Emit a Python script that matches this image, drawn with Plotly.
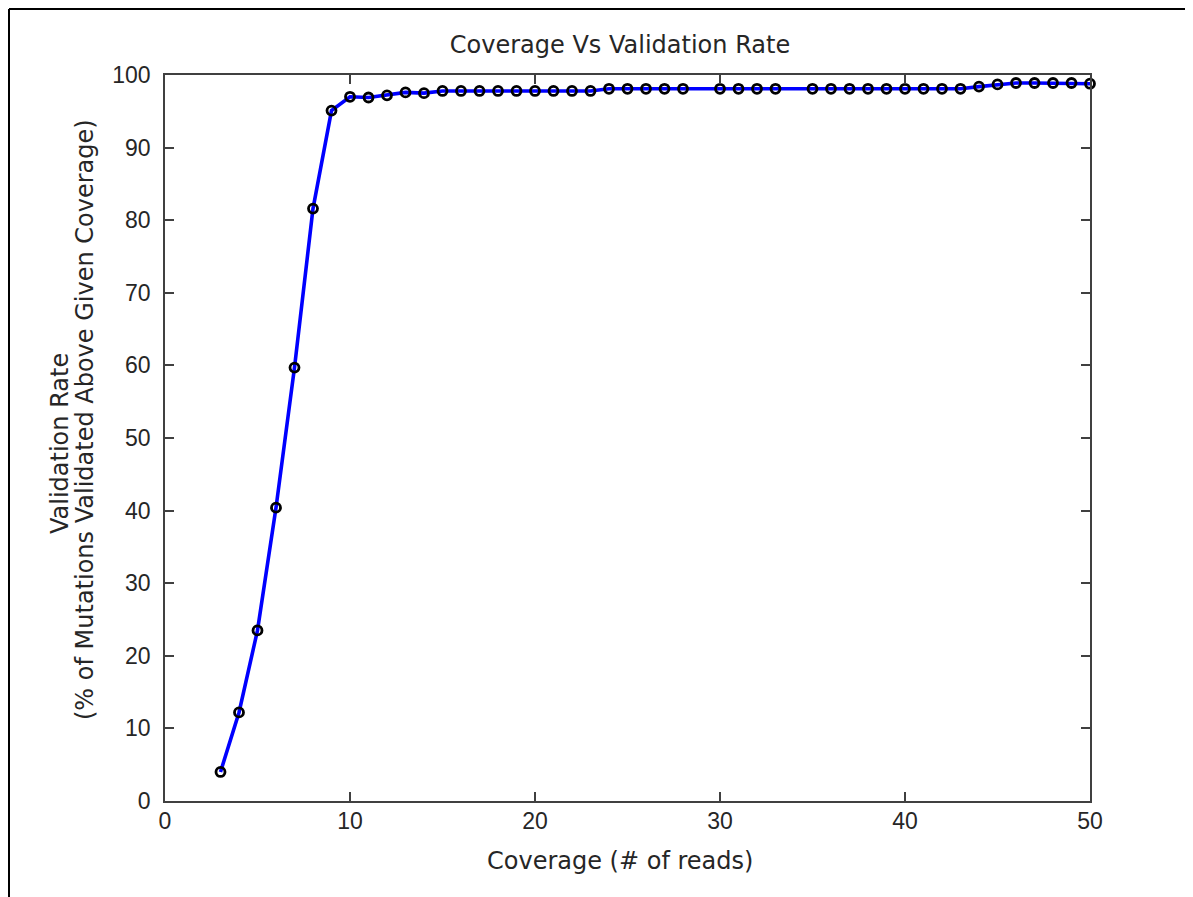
import plotly.graph_objects as go

coverage = [3, 4, 5, 6, 7, 8, 9, 10, 11, 12, 13, 14, 15, 16, 17, 18, 19, 20,
            21, 22, 23, 24, 25, 26, 27, 28, 30, 31, 32, 33, 35, 36, 37, 38,
            39, 40, 41, 42, 43, 44, 45, 46, 47, 48, 49, 50]
validation_rate = [4.0, 12.2, 23.5, 40.4, 59.7, 81.6, 95.1, 97.0, 96.9, 97.2,
                   97.6, 97.5, 97.8, 97.8, 97.8, 97.8, 97.8, 97.8, 97.8, 97.8,
                   97.8, 98.1, 98.1, 98.1, 98.1, 98.1, 98.1, 98.1, 98.1, 98.1,
                   98.1, 98.1, 98.1, 98.1, 98.1, 98.1, 98.1, 98.1, 98.1, 98.4,
                   98.7, 98.9, 98.9, 98.9, 98.9, 98.8]
x_ticks = [0, 10, 20, 30, 40, 50]
y_ticks = [0, 10, 20, 30, 40, 50, 60, 70, 80, 90, 100]

title_text = "Coverage Vs Validation Rate"
x_title = "Coverage (# of reads)"
y_title_line1 = "Validation Rate"
y_title_line2 = "(% of Mutations Validated Above Given Coverage)"

TICK_FONT = "Liberation Sans, Arial, sans-serif"
TITLE_FONT = "DejaVu Sans, Liberation Sans, sans-serif"
TXT = "#262626"
AX = "#404040"

# page -> paper coordinate helpers (plot area: x 165..1090, y 75..801 in page px)
def px(p):
    return (p - 165) / 925

def py(p):
    return (801 - p) / 726

fig = go.Figure()
fig.add_trace(go.Scatter(
    x=coverage, y=validation_rate, mode="lines+markers",
    line=dict(color="#0000ff", width=3.6),
    marker=dict(symbol="circle-open", size=9, color="black",
                line=dict(width=2.8, color="black")),
    showlegend=False, cliponaxis=False,
))

axis_common = dict(
    showgrid=False, zeroline=False, showline=True, linecolor=AX, linewidth=1.8,
    mirror="ticks", ticks="inside", ticklen=9, tickwidth=1.8, tickcolor=AX,
    tickfont=dict(family=TICK_FONT, size=23, color=TXT),
)

fig.update_layout(
    width=1185, height=889,
    paper_bgcolor="white", plot_bgcolor="white",
    margin=dict(l=157, r=103, t=67, b=96, autoexpand=False),
    title=dict(text=title_text, x=612 / 1185, xanchor="center",
               y=1 - 37 / 889, yanchor="middle",
               font=dict(family=TITLE_FONT, size=24, color=TXT)),
    xaxis=dict(range=[0, 50], tickvals=x_ticks, ticklabelstandoff=-2,
               **axis_common),
    yaxis=dict(range=[0, 100], tickvals=y_ticks, ticklabelstandoff=8,
               **axis_common),
    annotations=[
        dict(text=x_title, xref="paper", yref="paper", x=px(620), y=py(861),
             xanchor="center", yanchor="middle", showarrow=False,
             font=dict(family=TITLE_FONT, size=24, color=TXT)),
        dict(text=y_title_line1, xref="paper", yref="paper", x=px(60), y=py(444),
             xanchor="center", yanchor="middle", showarrow=False, textangle=-90,
             font=dict(family=TITLE_FONT, size=24, color=TXT)),
        dict(text=y_title_line2, xref="paper", yref="paper", x=px(85), y=py(420),
             xanchor="center", yanchor="middle", showarrow=False, textangle=-90,
             font=dict(family=TITLE_FONT, size=24, color=TXT)),
    ],
    shapes=[
        dict(type="line", xref="paper", yref="paper", x0=px(9), x1=px(9),
             y0=py(905), y1=py(9), line=dict(color="black", width=2)),
        dict(type="line", xref="paper", yref="paper", x0=px(9), x1=px(1190),
             y0=py(9), y1=py(9), line=dict(color="black", width=2)),
        dict(type="line", xref="paper", yref="paper", x0=px(1190), x1=px(1190),
             y0=py(905), y1=py(9), line=dict(color="black", width=2)),
    ],
)

fig.write_html("out.html")
